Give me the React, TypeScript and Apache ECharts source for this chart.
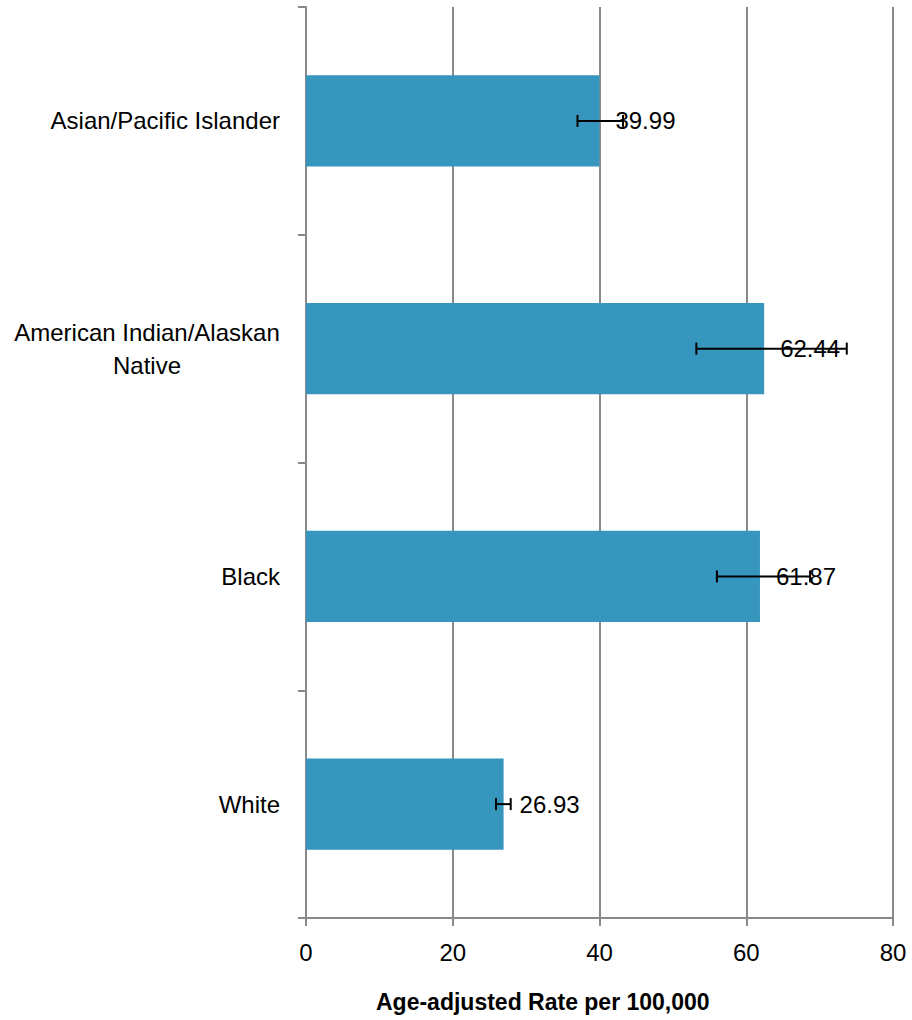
import React, { useEffect, useRef } from "react";
import * as echarts from "echarts";

const categories = ["Asian/Pacific Islander", "American Indian/Alaskan\nNative", "Black", "White"];
const rates = [39.99, 62.44, 61.87, 26.93];
const lowerCI = [37.0, 53.2, 56.0, 25.9];
const upperCI = [43.2, 73.7, 68.7, 27.9];
const xTicks = [0, 20, 40, 60, 80];
const xAxisTitle = "Age-adjusted Rate per 100,000";

const FONT = "Liberation Sans";
const GRAY = "#898989";
const LABEL_SIZE = 24;

function measure(text: string, size: number): number {
  const c = document.createElement("canvas").getContext("2d");
  if (!c) return text.length * size * 0.5;
  c.font = `${size}px "${FONT}"`;
  return c.measureText(text).width;
}

export default function App() {
  const ref = useRef<HTMLDivElement>(null);
  useEffect(() => {
    if (!ref.current) return;
    const chart = echarts.init(ref.current, undefined, { renderer: "svg" });
    const errData = categories.map((_, i) => [i, lowerCI[i], upperCI[i]]);
    const multiWidth = Math.ceil(
      Math.max(
        ...categories
          .filter((c) => c.indexOf("\n") >= 0)
          .flatMap((c) => c.split("\n").map((s) => measure(s, LABEL_SIZE)))
      )
    );
    chart.setOption({
      animation: false,
      backgroundColor: "#ffffff",
      textStyle: { fontFamily: FONT },
      grid: { left: 306, right: 19, top: 7, bottom: 102, containLabel: false },
      graphic: [
        {
          type: "text",
          left: 546 - 170,
          top: 990,
          style: {
            text: xAxisTitle,
            fontFamily: FONT,
            fontSize: 23,
            fontWeight: "bold",
            fill: "#000",
          },
        },
      ],
      xAxis: {
        type: "value",
        min: xTicks[0],
        max: xTicks[xTicks.length - 1],
        interval: 20,
        axisLine: { show: true, lineStyle: { color: GRAY, width: 2 } },
        axisTick: { show: true, length: 8, lineStyle: { color: GRAY, width: 2 } },
        axisLabel: { fontSize: LABEL_SIZE, color: "#000", margin: 22, fontFamily: FONT },
        splitLine: { show: true, lineStyle: { color: GRAY, width: 2 } },
      },
      yAxis: {
        type: "category",
        data: categories,
        inverse: true,
        axisLine: { show: true, lineStyle: { color: GRAY, width: 2 } },
        axisTick: { show: true, length: 8, lineStyle: { color: GRAY, width: 2 } },
        axisLabel: {
          fontSize: LABEL_SIZE,
          color: "#000",
          margin: 26,
          fontFamily: FONT,
          lineHeight: 33,
          formatter: (v: string) =>
            v.indexOf("\n") >= 0
              ? v.split("\n").map((s) => "{c|" + s + "}").join("\n")
              : v,
          rich: {
            c: {
              width: multiWidth,
              align: "center",
              fontSize: LABEL_SIZE,
              fontFamily: FONT,
              color: "#000",
              lineHeight: 33,
            },
          },
        },
        splitLine: { show: false },
      },
      series: [
        {
          type: "bar",
          data: rates,
          barCategoryGap: "60%",
          itemStyle: { color: "#3796bd" },
          label: {
            show: true,
            position: "right",
            distance: 16,
            fontSize: LABEL_SIZE,
            color: "#000",
            fontFamily: FONT,
            formatter: (p: any) => Number(p.value).toFixed(2),
          },
          z: 2,
        },
        {
          type: "custom",
          data: errData,
          z: 5,
          renderItem: (params: any, api: any) => {
            const idx = api.value(0);
            const lo = api.coord([api.value(1), idx]);
            const hi = api.coord([api.value(2), idx]);
            const h = 6;
            const style = { stroke: "#000", lineWidth: 2 };
            return {
              type: "group",
              children: [
                { type: "line", shape: { x1: lo[0], y1: lo[1], x2: hi[0], y2: hi[1] }, style },
                { type: "line", shape: { x1: lo[0], y1: lo[1] - h, x2: lo[0], y2: lo[1] + h }, style },
                { type: "line", shape: { x1: hi[0], y1: hi[1] - h, x2: hi[0], y2: hi[1] + h }, style },
              ],
            };
          },
        },
      ],
    });
    return () => chart.dispose();
  }, []);
  return (
    <div
      ref={ref}
      style={{ position: "fixed", left: 0, top: 0, width: 912, height: 1020, background: "#fff" }}
    />
  );
}
